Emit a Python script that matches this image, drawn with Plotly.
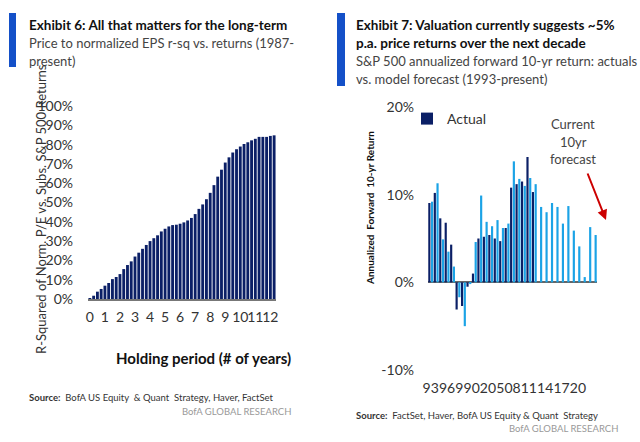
import plotly.graph_objects as go

# ---------- data ----------
# Exhibit 6: holding period (years, quarterly steps) vs R-squared (%)
hold_years = [i * 0.25 for i in range(50)]
rsq = [0.5, 1.7, 3.8, 5.2, 6.9, 8.3, 10.3, 11.4, 12.9, 15.5,
       17.6, 19.5, 22.0, 24.0, 26.0, 28.0, 30.0, 31.5, 33.0, 35.0,
       36.4, 37.6, 38.3, 38.5, 39.0, 39.7, 40.7, 42.0, 44.0, 46.7,
       49.0, 51.7, 55.0, 59.0, 63.4, 67.0, 70.7, 73.4, 75.9, 77.6,
       79.0, 80.3, 81.2, 82.2, 83.0, 84.0, 84.0, 84.0, 84.5, 84.8]
left_tickvals = list(range(13))
left_ticktext = [str(v) for v in left_tickvals]
left_yticks = list(range(0, 101, 10))

# Exhibit 7: S&P 500 annualized forward 10-yr return (%)
years = list(range(1993, 2024))
actual = [9.05, 10.2, 7.3, 6.8, 4.3, -3.1, -2.7, -0.5, 1.0, 5.0,
          5.2, 5.4, 5.0, 4.7, 6.2, 10.8, 11.2, 11.5, 14.3, 10.3]
model = [9.2, 11.3, 4.9, 3.5, 1.8, -1.7, -5.0, -0.2, 4.6, 9.9,
         6.9, 6.4, 7.1, 6.2, 6.7, 13.8, 11.8, 11.0, 11.9, 11.2,
         8.6, 8.0, 9.05, 8.6, 6.7, 8.7, 5.9, 4.1, 0.6, 6.3, 5.4]
right_tickvals = list(range(1993, 2021, 3))
right_ticktext = [str(y)[2:] for y in right_tickvals]
right_yticks = [-10, 0, 10, 20]

NAVY = "#0b1f66"
LIGHT = "#1ba3e6"
FONT = "Lato, sans-serif"
W, H = 640, 442


def px(x):
    return x / W


def py(y):
    return 1 - y / H


fig = go.Figure()

fig.add_trace(go.Bar(x=hold_years, y=rsq, width=0.19, marker_color=NAVY,
                     marker_line_width=0, xaxis="x", yaxis="y", showlegend=False))

fig.add_trace(go.Bar(x=years[:len(actual)], y=actual, width=0.4, offset=-0.45,
                     marker_color=NAVY, marker_line_width=0, name="Actual",
                     xaxis="x2", yaxis="y2", showlegend=True))
fig.add_trace(go.Bar(x=years, y=model, width=0.4, offset=0.05,
                     marker_color=LIGHT, marker_line_width=0, name="Model forecast",
                     xaxis="x2", yaxis="y2", showlegend=False))

ann = []


def text(x, y, s, size, color="#222", bold=False, xanchor="left", angle=0):
    if bold:
        s = "<b>" + s + "</b>"
    ann.append(dict(x=px(x), y=py(y), xref="paper", yref="paper", text=s,
                    showarrow=False, xanchor=xanchor, yanchor="middle",
                    textangle=angle, font=dict(size=size, color=color, family=FONT)))


# Titles
text(27, 25, "Exhibit 6: All that matters for the long-term", 13.5, "#111", True)
text(27, 43, "Price to normalized EPS r-sq vs. returns (1987-", 13, "#444")
text(27, 61, "present)", 13, "#444")
text(354, 25, "Exhibit 7: Valuation currently suggests ~5%", 13.5, "#111", True)
text(354, 43, "p.a. price returns over the next decade", 13.5, "#111", True)
text(354, 61, "S&P 500 annualized forward 10-yr return: actuals", 13, "#444")
text(354, 79, "vs. model forecast (1993-present)", 13, "#444")

# Axis titles
text(41, 209, "R-Squared of Norm. P/E vs. Subs. S&P 500 Returns", 13, "#333",
     xanchor="center", angle=-90)
text(203, 358, "Holding period (# of years)", 15, "#111", True, xanchor="center")
text(370, 208, "Annualized&nbsp;&nbsp;Forward&nbsp;&nbsp;10-yr Return", 10, "#111", True,
     xanchor="center", angle=-90)

# Forecast annotation
text(573, 124, "Current", 13, "#444", xanchor="center")
text(573, 142, "10yr", 13, "#444", xanchor="center")
text(573, 159, "forecast", 13, "#444", xanchor="center")
ann.append(dict(x=px(606), y=py(220), ax=-19, ay=-48, xref="paper", yref="paper",
                axref="pixel", ayref="pixel", showarrow=True, arrowhead=2, arrowsize=1,
                arrowwidth=2, arrowcolor="#cc0000", text=""))

# Sources
text(27, 397, "<b>Source:</b>  BofA US Equity  & Quant  Strategy, Haver, FactSet", 9.5, "#333")
text(293, 411, "BofA GLOBAL RESEARCH", 9.5, "#999", xanchor="right")
text(354, 415, "<b>Source:</b>  FactSet, Haver, BofA US Equity & Quant  Strategy", 9.5, "#333")
text(620, 428, "BofA GLOBAL RESEARCH", 9.5, "#999", xanchor="right")

shapes = [
    dict(type="rect", xref="paper", yref="paper", x0=px(9), x1=px(16), y0=py(67), y1=py(13),
         fillcolor="#1450c8", line_width=0),
    dict(type="rect", xref="paper", yref="paper", x0=px(337), x1=px(345), y0=py(86), y1=py(13),
         fillcolor="#1450c8", line_width=0),
]

axis_font = dict(family=FONT, size=14, color="#333")

fig.update_layout(
    template="none",
    width=W, height=H, margin=dict(l=0, r=0, t=0, b=0, autoexpand=False),
    paper_bgcolor="white", plot_bgcolor="white",
    barmode="overlay",
    annotations=ann, shapes=shapes,
    legend=dict(x=px(407), y=py(119), xanchor="left", yanchor="middle",
                font=dict(family=FONT, size=14, color="#333"),
                bgcolor="rgba(0,0,0,0)", itemwidth=30, tracegroupgap=0),
    xaxis=dict(domain=[px(88), px(276)], range=[-0.125, 12.375], tickvals=left_tickvals,
               ticktext=left_ticktext, showgrid=False, zeroline=False, showline=True,
               linecolor="#777", linewidth=1.5, tickfont=axis_font, ticks="",
               tickangle=0, automargin=False, ticklabelstandoff=4),
    yaxis=dict(domain=[py(299), py(106)], range=[0, 100], tickvals=left_yticks,
               ticktext=[f"{v}%" for v in left_yticks], showgrid=False, zeroline=False,
               showline=False, tickfont=axis_font, ticks="", automargin=False,
               ticklabelstandoff=14),
    xaxis2=dict(domain=[px(428), px(597)], range=[1992.5, 2023.5], tickvals=right_tickvals,
                ticktext=right_ticktext, showgrid=False, zeroline=False, showline=False,
                tickfont=axis_font, anchor="y2", ticks="", tickangle=0, automargin=False,
                ticklabelstandoff=8),
    yaxis2=dict(domain=[py(370), py(107)], range=[-10, 20], tickvals=right_yticks,
                ticktext=[f"{v}%" for v in right_yticks], showgrid=False, zeroline=True,
                zerolinecolor="#666", zerolinewidth=1.5, showline=False, ticks="",
                tickfont=axis_font, anchor="x2", automargin=False, ticklabelstandoff=13),
)

fig.write_html("out.html")
